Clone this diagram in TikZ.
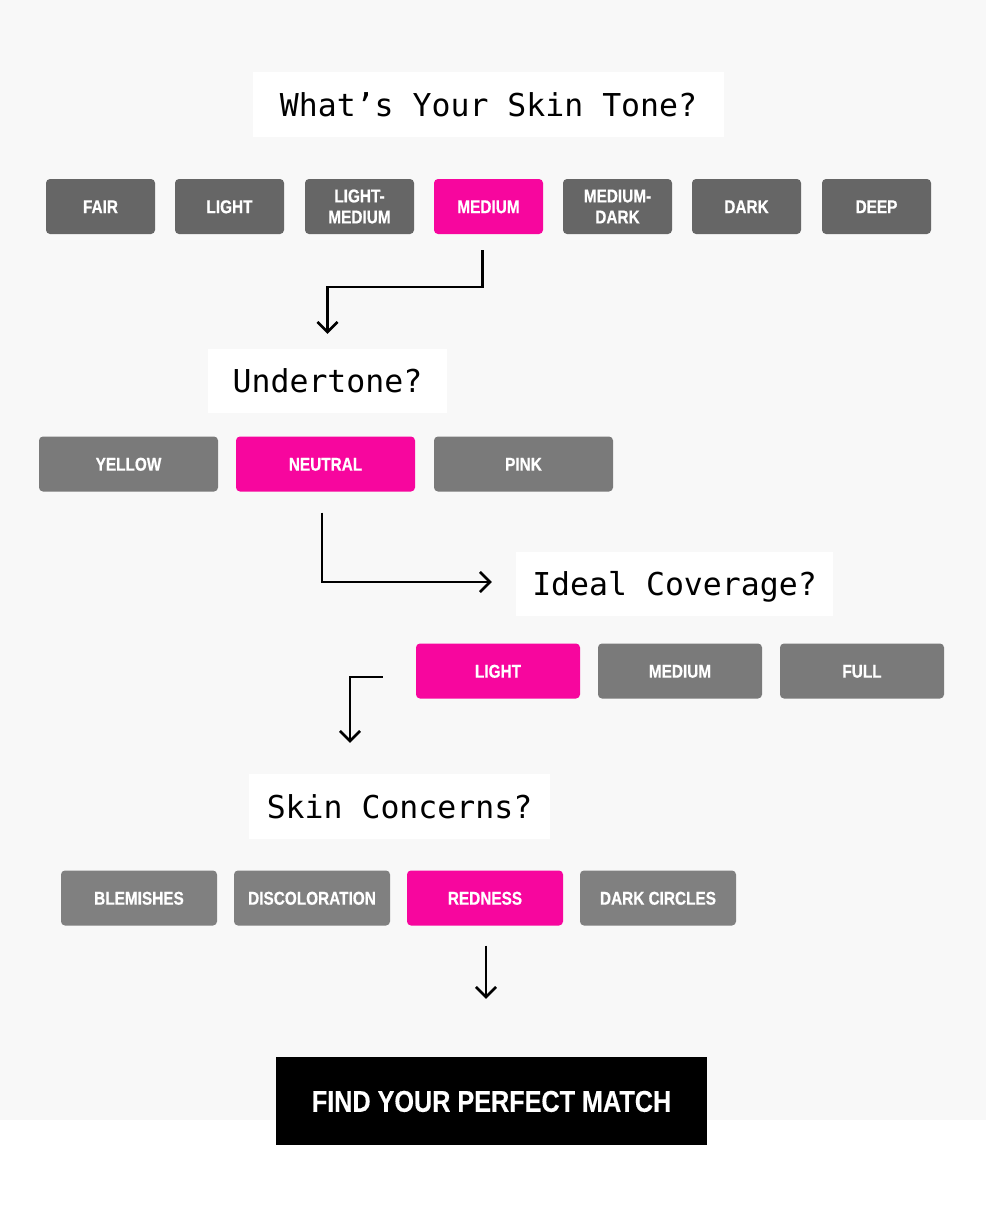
\documentclass[tikz,border=0pt]{standalone}
\usepackage{fontspec}
\setmainfont{Liberation Sans}
\newfontfamily\monofont{DejaVu Sans Mono}
\newfontfamily\btnfont[FakeStretch=0.83,FakeBold=0.6]{Liberation Sans}
\newfontfamily\findfont[FakeStretch=0.84,FakeBold=0.4]{Liberation Sans}
\usetikzlibrary{arrows.meta,calc}
\definecolor{bgc}{HTML}{F8F8F8}
\definecolor{pinkc}{HTML}{F7069E}
\definecolor{greyA}{HTML}{666666}
\definecolor{greyB}{HTML}{7A7A7A}
\definecolor{greyC}{HTML}{808080}
\begin{document}
\begin{tikzpicture}[x=1pt,y=-1pt,
  qbox/.style={fill=white,inner sep=0pt,minimum height=65pt,
    font=\monofont\fontsize{31.5}{36}\selectfont,text=black,
    text height=23pt,text depth=0pt},
  btnbase/.style={rounded corners=4pt,text=white,inner sep=0pt,
    minimum height=55pt,font=\btnfont\bfseries\fontsize{18.5}{21}\selectfont,align=center},
  btn/.style={btnbase,text height=13.3pt,text depth=0pt},
  btntwo/.style={btnbase},
  arr/.style={draw=black,line width=2.6pt,-{Straight Barb[length=10pt,width=20pt,line width=2.6pt]}},
  conn/.style={draw=black,line width=2.6pt}
]
\useasboundingbox (0,0) rectangle (986,1215);
\fill[white] (0,0) rectangle (986,1215);
\fill[bgc] (0,0) rectangle (986,1120);

% Row 1
\node[qbox,minimum width=471pt] (h1) at (488.5,104.5) {What’s Your Skin Tone?};
\begin{scope}[every node/.append style={minimum width=109pt}]
\node[btn,fill=greyA] (fair) at (100.5,206.5) {FAIR};
\node[btn,fill=greyA] (light) at (229.5,206.5) {LIGHT};
\node[btntwo,fill=greyA] (lightmed) at (359.5,206.5) {LIGHT-\\MEDIUM};
\node[btn,fill=pinkc] (medium) at (488.5,206.5) {MEDIUM};
\node[btntwo,fill=greyA] (meddark) at (617.5,206.5) {MEDIUM-\\DARK};
\node[btn,fill=greyA] (dark) at (746.5,206.5) {DARK};
\node[btn,fill=greyA] (deep) at (876.5,206.5) {DEEP};
\end{scope}

% Row 2
\node[qbox,minimum width=239pt,minimum height=64pt] (h2) at (327.5,381) {Undertone?};
\begin{scope}[every node/.append style={minimum width=179pt,minimum height=54pt}]
\node[btn,fill=greyB] (yellow) at (128.5,464) {YELLOW};
\node[btn,fill=pinkc] (neutral) at (325.5,464) {NEUTRAL};
\node[btn,fill=greyB] (pink) at (523.5,464) {PINK};
\end{scope}

% Row 3
\node[qbox,minimum width=317pt,minimum height=64pt] (h3) at (674.5,584) {Ideal Coverage?};
\begin{scope}[every node/.append style={minimum width=164pt,minimum height=54pt}]
\node[btn,fill=pinkc] (covlight) at (498,671) {LIGHT};
\node[btn,fill=greyB] (covmed) at (680,671) {MEDIUM};
\node[btn,fill=greyB] (covfull) at (862,671) {FULL};
\end{scope}

% Row 4
\node[qbox,minimum width=301pt] (h4) at (399.5,806.5) {Skin Concerns?};
\begin{scope}[every node/.append style={minimum width=156pt,minimum height=54pt}]
\node[btn,fill=greyC] (blem) at (139,898) {BLEMISHES};
\node[btn,fill=greyC] (disc) at (312,898) {DISCOLORATION};
\node[btn,fill=pinkc] (red) at (485,898) {REDNESS};
\node[btn,fill=greyC] (circ) at (658,898) {DARK CIRCLES};
\end{scope}

% Final button
\node[fill=black,text=white,inner sep=0pt,minimum width=431pt,minimum height=88pt,
  font=\findfont\bfseries\fontsize{30}{34}\selectfont,text height=21.5pt,text depth=0pt]
  (find) at (491.5,1101) {FIND YOUR PERFECT MATCH};

% Connectors
\coordinate (a1s) at ([xshift=-6pt,yshift=-16pt]medium.south);
\coordinate (a1e) at ([yshift=15pt]h2.north);
\coordinate (a1m) at (400,287);
\draw[arr] (a1s) -- (a1s |- a1m) -- (a1e |- a1m) -- (a1e);

\coordinate (a2s) at ([xshift=-3.5pt,yshift=-21pt]neutral.south);
\coordinate (a2e) at ([xshift=-24pt,yshift=2pt]h3.west);
\draw[arr] (a2s) |- (a2e);

\coordinate (a3s) at ([xshift=-33pt,yshift=-6pt]covlight.west);
\coordinate (a3e) at ([xshift=-49.5pt,yshift=31pt]h4.north);
\draw[arr] (a3s) -| (a3e);

\coordinate (a4s) at ([xshift=1pt,yshift=-20pt]red.south);
\coordinate (a4e) at ([yshift=58pt]find.north);
\draw[arr] (a4s) -- (a4s |- a4e);
\end{tikzpicture}
\end{document}
